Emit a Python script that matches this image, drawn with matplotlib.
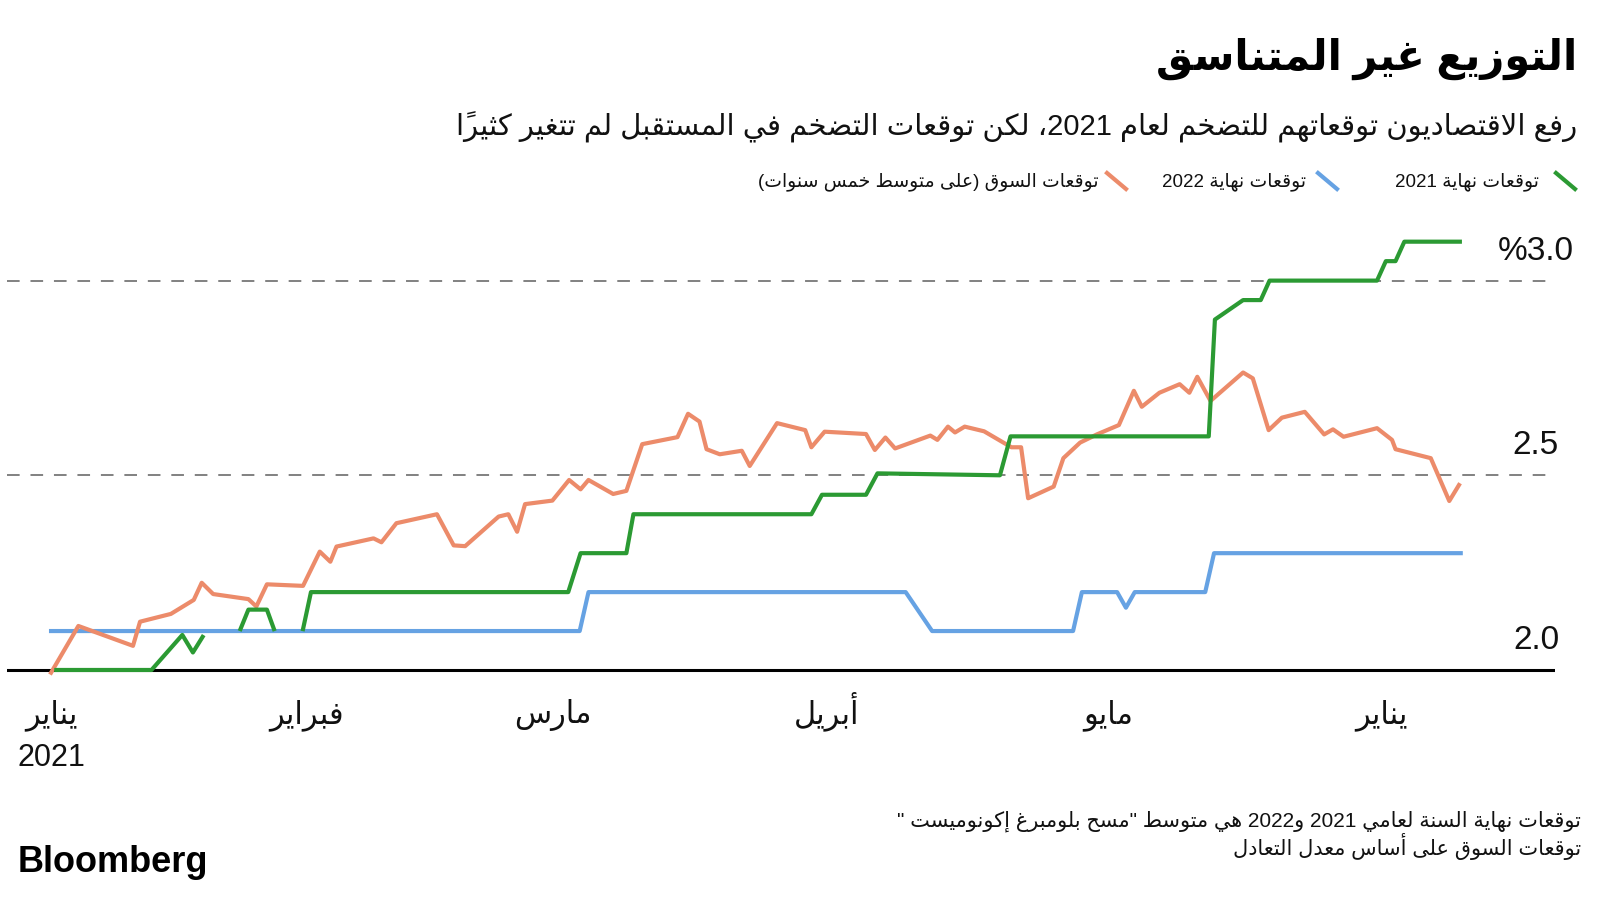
import re
import numpy as np
import matplotlib
matplotlib.use("Agg")
import matplotlib.pyplot as plt
from matplotlib.lines import Line2D
from matplotlib.transforms import blended_transform_factory

# ---- data (x = days since 1 Jan 2021, y = inflation expectation in %) ----
nan = np.nan

blue_x = [0, 60, 61, 97, 100, 116, 117, 121, 122, 123, 131, 132, 160]
blue_y = [2.1, 2.1, 2.2, 2.2, 2.1, 2.1, 2.2, 2.2, 2.16, 2.2, 2.2, 2.3, 2.3]

green_x = [0.6, 11.4, 14.9, 16.1, 17.2, 17.3, 21.5, 22.4, 24.5, 25.3, 25.4,
           28.6, 29.5, 58.7, 60.1, 65.3, 66.1, 86.3, 87.5, 92.5, 93.8,
           107.7, 108.9, 131.4, 132.1, 135.3, 137.3, 138.3, 150.5, 151.5,
           152.6, 153.6, 159.9]
green_y = [2.0, 2.0, 2.09, 2.045, 2.085, nan, 2.105, 2.155, 2.155, 2.105, nan,
           2.105, 2.2, 2.2, 2.3, 2.3, 2.4, 2.4, 2.45, 2.45, 2.505,
           2.5, 2.6, 2.6, 2.9, 2.95, 2.95, 3.0, 3.0, 3.05,
           3.05, 3.1, 3.1]

orange_x = [0, 3.1, 9.3, 10.1, 13.6, 16.2, 17.1, 18.4, 22.4, 23.3, 24.5, 28.6,
            30.5, 31.7, 32.4, 36.6, 37.5, 39.2, 43.8, 45.7, 47.0, 50.8, 51.9,
            52.9, 53.8, 56.9, 58.8, 60.1, 61.0, 63.8, 65.3, 67.1, 71.1, 72.3,
            73.6, 74.4, 75.9, 78.4, 79.3, 82.4, 85.6, 86.3, 87.8, 92.5, 93.5,
            94.7, 95.8, 99.8, 100.6, 101.8, 102.6, 103.7, 105.9, 109.0, 110.1,
            110.9, 113.8, 114.9, 116.8, 118.7, 121.2, 122.9, 123.8, 125.8,
            128.1, 129.2, 130.1, 131.6, 135.3, 136.4, 138.2, 139.7, 142.3,
            144.5, 145.5, 146.7, 150.5, 152.2, 152.6, 156.6, 158.7, 159.8]
orange_y = [1.993, 2.113, 2.062, 2.124, 2.144, 2.18, 2.224, 2.195, 2.182, 2.163,
            2.22, 2.216, 2.304, 2.278, 2.317, 2.338, 2.328, 2.377, 2.40, 2.32,
            2.318, 2.394, 2.40, 2.355, 2.426, 2.435, 2.488, 2.464, 2.488, 2.452,
            2.46, 2.58, 2.598, 2.658, 2.638, 2.567, 2.554, 2.563, 2.524, 2.634,
            2.616, 2.572, 2.612, 2.606, 2.565, 2.597, 2.569, 2.602, 2.591,
            2.625, 2.61, 2.625, 2.613, 2.572, 2.572, 2.441, 2.471, 2.544,
            2.584, 2.605, 2.629, 2.717, 2.676, 2.712, 2.734, 2.712, 2.753,
            2.691, 2.764, 2.749, 2.616, 2.648, 2.663, 2.605, 2.618, 2.599,
            2.621, 2.591, 2.567, 2.544, 2.434, 2.475]

month_ticks = [0, 29, 57, 88, 120, 151]
month_labels = ["يناير\n2021", "فبراير", "مارس", "أبريل", "مايو", "يناير"]

grid_values = [2.0, 2.5, 3.0]
grid_labels = ["2.0", "2.5", "%3.0"]

series_names = ["توقعات نهاية 2021", "توقعات نهاية 2022",
                "توقعات السوق (على متوسط خمس سنوات)"]

title = "التوزيع غير المتناسق"
subtitle = "رفع الاقتصاديون توقعاتهم للتضخم لعام 2021، لكن توقعات التضخم في المستقبل لم تتغير كثيراً"
note = ("توقعات نهاية السنة لعامي 2021 و2022 هي متوسط \"مسح بلومبرغ إكونوميست \"\n"
        "توقعات السوق على أساس معدل التعادل")

GREEN = "#2b9a33"
BLUE = "#66a2e3"
ORANGE = "#ec8b6a"


# ---- tiny Arabic shaper + RTL reorder (matplotlib has no text shaping) ----
# code point -> (isolated presentation form, number of forms)
AR_FORMS = {0x0621: (0xFE80, 1), 0x0622: (0xFE81, 2), 0x0623: (0xFE83, 2),
            0x0624: (0xFE85, 2), 0x0625: (0xFE87, 2), 0x0626: (0xFE89, 4),
            0x0627: (0xFE8D, 2), 0x0628: (0xFE8F, 4), 0x0629: (0xFE93, 2),
            0x062A: (0xFE95, 4), 0x062B: (0xFE99, 4), 0x062C: (0xFE9D, 4),
            0x062D: (0xFEA1, 4), 0x062E: (0xFEA5, 4), 0x062F: (0xFEA9, 2),
            0x0630: (0xFEAB, 2), 0x0631: (0xFEAD, 2), 0x0632: (0xFEAF, 2),
            0x0633: (0xFEB1, 4), 0x0634: (0xFEB5, 4), 0x0635: (0xFEB9, 4),
            0x0636: (0xFEBD, 4), 0x0637: (0xFEC1, 4), 0x0638: (0xFEC5, 4),
            0x0639: (0xFEC9, 4), 0x063A: (0xFECD, 4), 0x0641: (0xFED1, 4),
            0x0642: (0xFED5, 4), 0x0643: (0xFED9, 4), 0x0644: (0xFEDD, 4),
            0x0645: (0xFEE1, 4), 0x0646: (0xFEE5, 4), 0x0647: (0xFEE9, 4),
            0x0648: (0xFEED, 2), 0x0649: (0xFEEF, 2), 0x064A: (0xFEF1, 4)}
LAM_ALEF = {0x0622: 0xFEF5, 0x0623: 0xFEF7, 0x0625: 0xFEF9, 0x0627: 0xFEFB}
MIRROR = {"(": ")", ")": "("}


def is_mark(c):
    return 0x064B <= ord(c) <= 0x065F


def shape(s):
    items = []
    i = 0
    while i < len(s):
        o = ord(s[i])
        if o == 0x0644 and i + 1 < len(s) and ord(s[i + 1]) in LAM_ALEF:
            items.append((LAM_ALEF[ord(s[i + 1])], 2))
            i += 2
            continue
        if o in AR_FORMS:
            items.append(AR_FORMS[o])
        elif is_mark(s[i]):
            items.append((o, -1))
        else:
            items.append((o, 0))
        i += 1
    out = []
    for k, (base, n) in enumerate(items):
        if n <= 1:
            out.append(chr(base))
            continue
        j = k - 1
        while j >= 0 and items[j][1] == -1:
            j -= 1
        joins_prev = j >= 0 and items[j][1] == 4
        j = k + 1
        while j < len(items) and items[j][1] == -1:
            j += 1
        joins_next = n == 4 and j < len(items) and items[j][1] >= 2
        if joins_prev and joins_next:
            f = 3
        elif joins_next:
            f = 2
        elif joins_prev:
            f = 1
        else:
            f = 0
        out.append(chr(base + f))
    return "".join(out)


def rtl_reverse(t):
    clusters = []
    for c in t:
        if clusters and is_mark(c):
            clusters[-1] += c
        else:
            clusters.append(MIRROR.get(c, c))
    return "".join(reversed(clusters))


def ar(s):
    lines = []
    for line in s.split("\n"):
        parts = re.split(r"([0-9A-Za-z]+(?:\.[0-9]+)?)", shape(line))
        vis = []
        for idx, p in enumerate(parts):
            vis.append(p if idx % 2 else rtl_reverse(p))
        lines.append("".join(reversed(vis)))
    return "\n".join(lines)


FONT = ["Liberation Sans", "DejaVu Sans"]

# ---- figure ----
fig = plt.figure(figsize=(16, 9), dpi=100)
fig.patch.set_facecolor("white")

ax = fig.add_axes([7 / 1600, 0.2426, 1548 / 1600, 0.5105])
ax.set_xlim(-5.0, 170.7)
ax.set_ylim(1.97, 3.15)

for v in grid_values[1:]:
    ax.axhline(v, color="#777777", lw=1.3, ls=(0, (7, 6)), zorder=1)
ax.axhline(grid_values[0], color="black", lw=2.2, zorder=1)

ax.plot(blue_x, blue_y, color=BLUE, lw=3, zorder=3)
ax.plot(orange_x, orange_y, color=ORANGE, lw=3, zorder=4)
ax.plot(green_x, green_y, color=GREEN, lw=3, zorder=5)

for s in ax.spines.values():
    s.set_visible(False)
ax.set_yticks([])
ax.set_xticks([])

# month labels: every line sits on its own baseline (the hamza in أبريل
# would otherwise push that label down)
xt = blended_transform_factory(ax.transData, fig.transFigure)
for x, lab in zip(month_ticks, month_labels):
    for k, line in enumerate(lab.split("\n")):
        ax.text(x, 1 - (723 + 43 * k) / 900, ar(line), transform=xt,
                ha="center", va="baseline", family=FONT, fontsize=22,
                color="#111111")

trans = blended_transform_factory(fig.transFigure, ax.transData)
for v, lab in zip(grid_values, grid_labels):
    ax.annotate(lab, xy=(1536 / 1600, v), xycoords=trans, xytext=(0, 10),
                textcoords="offset points", ha="center", va="bottom",
                family=FONT, fontsize=24, color="#111111")

# titles
fig.text(1577 / 1600, 1 - 59 / 900, ar(title), ha="right", va="center",
         family=FONT, fontsize=30, fontweight="bold", color="black")
fig.text(1577 / 1600, 1 - 127 / 900, ar(subtitle), ha="right", va="center",
         family=FONT, fontsize=21, color="#111111")

# legend (short slanted strokes like the original)
legend_right = [1539, 1306, 1099]
stroke_x = [1556, 1318, 1107]
for name, col, tx, sx in zip(series_names, [GREEN, BLUE, ORANGE], legend_right, stroke_x):
    fig.add_artist(Line2D([sx / 1600, (sx + 19) / 1600],
                          [1 - 173 / 900, 1 - 189 / 900],
                          color=col, lw=3, transform=fig.transFigure))
    fig.text(tx / 1600, 1 - 182 / 900, ar(name), ha="right", va="center",
             family=FONT, fontsize=13.5, color="#111111")

# footnote + logo
fig.text(1581 / 1600, 1 - 835 / 900, ar(note), ha="right", va="center",
         family=FONT, fontsize=15, color="#111111", linespacing=1.05)
fig.text(18 / 1600, 1 - 862 / 900, "Bloomberg", ha="left", va="center",
         family=["Liberation Sans"], fontsize=26, fontweight="bold", color="black")

fig.savefig("out.png", dpi=100, facecolor="white")
